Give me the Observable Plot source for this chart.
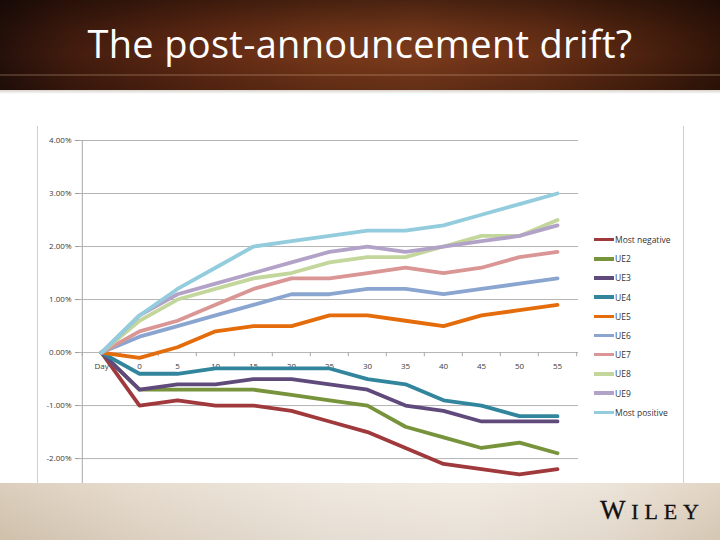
<!DOCTYPE html>
<html><head><meta charset="utf-8">
<script src="https://cdn.jsdelivr.net/npm/d3@7"></script>
<script src="https://cdn.jsdelivr.net/npm/@observablehq/plot@0.6"></script>
<style>
body{margin:0;width:720px;height:540px;overflow:hidden;background:#fff;font-family:"Open Sans",sans-serif}
#wrap{position:relative;width:720px;height:540px;background:#fff}
#header{position:absolute;left:0;top:0;width:720px;height:90px;
 background:
  linear-gradient(180deg,rgba(0,0,0,0.4) 0%,rgba(0,0,0,0.1) 35%,rgba(0,0,0,0) 60%,rgba(0,0,0,0.2) 100%),
  linear-gradient(90deg,#26100a 0%,#431c0e 10%,#622a14 28%,#763719 45%,#7c3b1c 58%,#6a3016 75%,#4c210e 90%,#331509 100%);}
#chalk{position:absolute;left:0;top:74px;width:720px;height:2px;background:rgba(240,200,160,0.2)}
#title{position:absolute;left:0;top:18px;width:720px;text-align:center;color:#fff;font-size:38px;line-height:50px;font-family:"Open Sans",sans-serif;letter-spacing:0.3px}
#strip{position:absolute;left:0;top:90px;width:720px;height:4px;background:linear-gradient(180deg,#d8d2cc,#fff)}
#chart{position:absolute;left:0;top:120px}
.vb{position:absolute;top:126px;width:1px;height:357px;background:#cfcfcf}
#legend{position:absolute;left:594px;top:230px;font-size:8.5px;color:#333}
.row{height:19.2px;display:flex;align-items:center;white-space:nowrap}
.sw{display:inline-block;width:20px;height:3.5px;margin-right:1px}
#footer{position:absolute;left:0;top:483px;width:720px;height:57px;
 background:
  linear-gradient(180deg,rgba(255,255,255,0.15),rgba(0,0,0,0.03)),
  linear-gradient(90deg,#d6c6b1 0%,#e3d7c7 20%,#ece4d9 45%,#efe8de 65%,#e9dfd2 85%,#dccdb9 100%);}
#wiley{position:absolute;left:598px;top:495px}
</style></head>
<body><div id="wrap">
<div id="header"><div id="chalk"></div><div id="title">The post-announcement drift?</div></div>
<div id="strip"></div>
<div class="vb" style="left:37px"></div>
<div class="vb" style="left:683px"></div>
<div id="chart"></div>
<div id="legend"></div>
<div id="footer"></div>
<svg id="wiley" width="110" height="30"><text x="2" y="23.5" textLength="99" lengthAdjust="spacing" font-family="Liberation Serif, serif" fill="#111" stroke="#111" stroke-width="0.3"><tspan font-size="27">W</tspan><tspan font-size="22">ILEY</tspan></text></svg>
</div>
<script>
const categories = ["Day","0","5","10","15","20","25","30","35","40","45","50","55"];
const seriesNames = ["Most negative","UE2","UE3","UE4","UE5","UE6","UE7","UE8","UE9","Most positive"];
const seriesColors = ["#a0393c","#77933c","#604a7b","#31859c","#e46c0a","#8aa6d0","#d99694","#c3d69b","#b3a2c7","#93cddd"];
const yTicks = [-2,-1,0,1,2,3,4];

const mostNegative = [0,-1.0,-0.9,-1.0,-1.0,-1.1,-1.3,-1.5,-1.8,-2.1,-2.2,-2.3,-2.2];
const ue2 = [0,-0.7,-0.7,-0.7,-0.7,-0.8,-0.9,-1.0,-1.4,-1.6,-1.8,-1.7,-1.9];
const ue3 = [0,-0.7,-0.6,-0.6,-0.5,-0.5,-0.6,-0.7,-1.0,-1.1,-1.3,-1.3,-1.3];
const ue4 = [0,-0.4,-0.4,-0.3,-0.3,-0.3,-0.3,-0.5,-0.6,-0.9,-1.0,-1.2,-1.2];
const ue5 = [0,-0.1,0.1,0.4,0.5,0.5,0.7,0.7,0.6,0.5,0.7,0.8,0.9];
const ue6 = [0,0.3,0.5,0.7,0.9,1.1,1.1,1.2,1.2,1.1,1.2,1.3,1.4];
const ue7 = [0,0.4,0.6,0.9,1.2,1.4,1.4,1.5,1.6,1.5,1.6,1.8,1.9];
const ue8 = [0,0.6,1.0,1.2,1.4,1.5,1.7,1.8,1.8,2.0,2.2,2.2,2.5];
const ue9 = [0,0.7,1.1,1.3,1.5,1.7,1.9,2.0,1.9,2.0,2.1,2.2,2.4];
const mostPositive = [0,0.7,1.2,1.6,2.0,2.1,2.2,2.3,2.3,2.4,2.6,2.8,3.0];

const seriesValues = [mostNegative,ue2,ue3,ue4,ue5,ue6,ue7,ue8,ue9,mostPositive];
const table = [];
seriesNames.forEach((s, i) => categories.forEach((c, j) => table.push({series: s, cat: c, value: seriesValues[i][j]})));

const W = 720, H = 363, mL = 79, mR = 142, mT = 20, mB = 0;
const halfStep = (W - mL - mR) / categories.length / 2;
const fmt = d => (d < 0 ? "-" : "") + Math.abs(d).toFixed(2) + "%";

const chart = Plot.plot({
  width: W, height: H,
  marginLeft: mL, marginRight: mR, marginTop: mT, marginBottom: mB,
  style: {background: "transparent", fontFamily: "Open Sans, sans-serif"},
  x: {type: "point", domain: categories, padding: 0.5, axis: null},
  y: {domain: [-2.47, 4], axis: null},
  color: {domain: seriesNames, range: seriesColors},
  marks: [
    Plot.gridY(yTicks, {stroke: "#b4b4b4", strokeOpacity: 1}),
    Plot.axisY(yTicks, {label: null, tickSize: 4, tickPadding: 4, tickFormat: fmt, fontSize: 8, color: "#9a9a9a", textStroke: "none", fill: "#3a3a3a"}),
    Plot.ruleX([categories[0]], {dx: -halfStep, stroke: "#a8a8a8"}),
    Plot.ruleX(categories, {x: d => d, y1: 0, y2: -0.08, dx: -halfStep, stroke: "#a8a8a8"}),
    Plot.ruleX([categories[categories.length - 1]], {x: d => d, y1: 0, y2: -0.08, dx: halfStep, stroke: "#a8a8a8"}),
    Plot.text(categories, {x: d => d, y: 0, dy: 14, fontSize: 8, fill: "#3a3a3a"}),
    Plot.line(table, {x: "cat", y: "value", z: "series", stroke: "series", strokeWidth: 3.8, strokeLinejoin: "round"})
  ]
});
document.getElementById("chart").appendChild(chart);

const legend = document.getElementById("legend");
seriesNames.forEach((s, i) => {
  const row = document.createElement("div");
  row.className = "row";
  row.innerHTML = `<span class="sw" style="background:${seriesColors[i]}"></span><span>${s}</span>`;
  legend.appendChild(row);
});
</script>
</body></html>
